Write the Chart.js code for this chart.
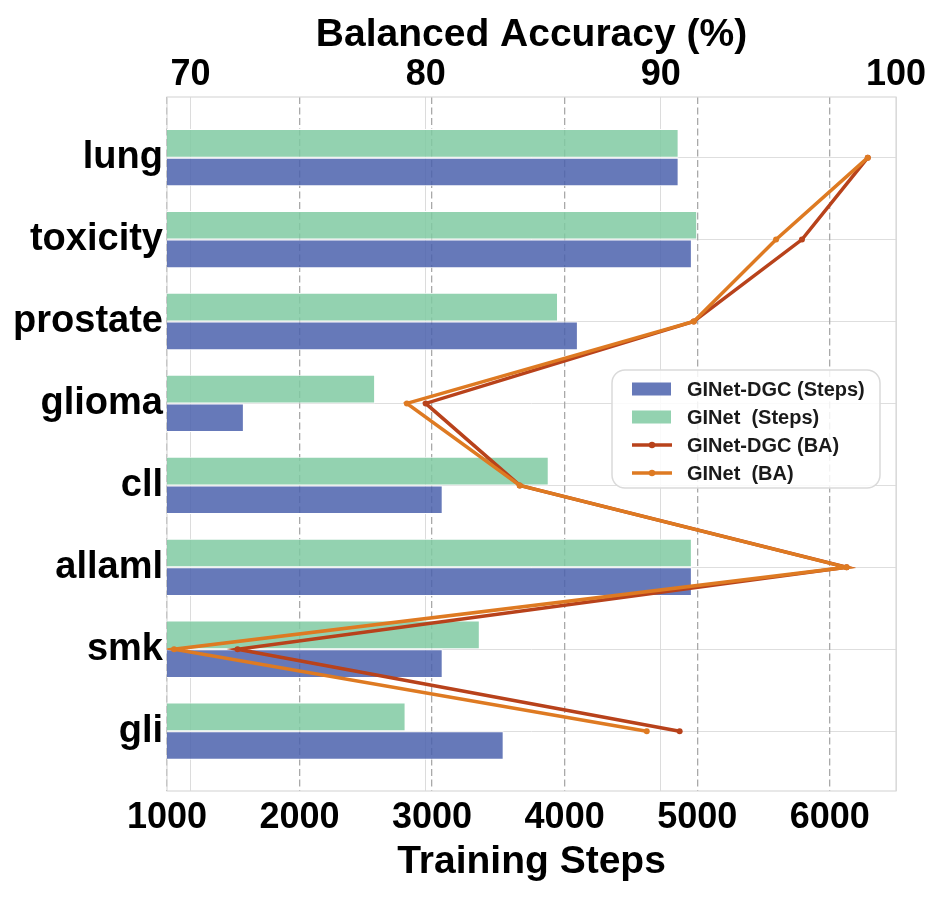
<!DOCTYPE html>
<html>
<head>
<meta charset="utf-8">
<script src="https://cdn.jsdelivr.net/npm/chart.js@4.4.1/dist/chart.umd.min.js"></script>
<style>
  html, body { margin: 0; padding: 0; background: #fff; }
  #wrap { width: 943px; height: 897px; }
</style>
</head>
<body>
<div id="wrap"><canvas id="chart" width="943" height="897"></canvas></div>
<script>
// datasets, top to bottom
const categories = ['lung', 'toxicity', 'prostate', 'glioma', 'cll', 'allaml', 'smk', 'gli'];
const dgcSteps   = [4860, 4960, 4100, 1580, 3080, 4960, 3080, 3540];
const ginetSteps = [4860, 5000, 3950, 2570, 3880, 4960, 3360, 2800];
const dgcBA   = [98.8, 96.0, 91.4, 80.0, 84.0, 97.9, 72.0, 90.8];
const ginetBA = [98.8, 94.9, 91.4, 79.2, 84.0, 97.9, 69.3, 89.4];
const stepTicks = [1000, 2000, 3000, 4000, 5000, 6000];
const baTicks = [70, 80, 90, 100];

const FONT = "'Liberation Sans', Arial, sans-serif";
const BLUE = 'rgba(75, 97, 173, 0.85)';
const GREEN = 'rgba(128, 202, 162, 0.85)';
const RED = '#b8421b';
const ORANGE = '#de7a22';

const pts = arr => arr.map((v, i) => ({ x: v, y: i }));

const legendItems = [
  { label: 'GINet-DGC (Steps)', color: BLUE, kind: 'bar' },
  { label: 'GINet  (Steps)', color: GREEN, kind: 'bar' },
  { label: 'GINet-DGC (BA)', color: RED, kind: 'line' },
  { label: 'GINet  (BA)', color: ORANGE, kind: 'line' },
];

// frame around plot + custom legend inside the plot
const framePlugin = {
  id: 'frame',
  beforeDatasetsDraw(chart) {
    const { ctx, chartArea: a } = chart;
    ctx.save();
    ctx.strokeStyle = '#d9d9d9';
    ctx.lineWidth = 1.2;
    ctx.strokeRect(a.left, a.top, a.right - a.left, a.bottom - a.top);
    ctx.restore();
  },
  afterDraw(chart) {
    const { ctx, chartArea: a } = chart;
    const bx = a.right - 284, by = a.top + 273, bw = 268, bh = 118;
    ctx.save();
    ctx.beginPath();
    ctx.roundRect(bx, by, bw, bh, 13);
    ctx.fillStyle = 'rgba(255,255,255,0.85)';
    ctx.fill();
    ctx.strokeStyle = '#dadada';
    ctx.lineWidth = 1.5;
    ctx.stroke();
    ctx.font = 'bold 20px ' + FONT;
    ctx.textBaseline = 'middle';
    legendItems.forEach((it, i) => {
      const y = by + 19 + i * 28;
      const sx = bx + 20;
      if (it.kind === 'bar') {
        ctx.fillStyle = it.color;
        ctx.fillRect(sx, y - 6.5, 39, 13);
      } else {
        ctx.strokeStyle = it.color;
        ctx.lineWidth = 3.5;
        ctx.beginPath();
        ctx.moveTo(sx, y);
        ctx.lineTo(sx + 40, y);
        ctx.stroke();
        ctx.fillStyle = it.color;
        ctx.beginPath();
        ctx.arc(sx + 20, y, 3.2, 0, Math.PI * 2);
        ctx.fill();
      }
      ctx.fillStyle = '#1a1a1a';
      ctx.fillText(it.label, bx + 75, y + 1);
    });
    ctx.restore();
  }
};

new Chart(document.getElementById('chart'), {
  type: 'bar',
  data: {
    datasets: [
      { type: 'bar', label: 'GINet-DGC (Steps)', data: pts(dgcSteps), xAxisID: 'x', yAxisID: 'y',
        backgroundColor: BLUE, borderColor: '#ffffff', borderWidth: 1, order: 3 },
      { type: 'bar', label: 'GINet  (Steps)', data: pts(ginetSteps), xAxisID: 'x', yAxisID: 'y',
        backgroundColor: GREEN, borderColor: '#ffffff', borderWidth: 1, order: 2 },
      { type: 'line', label: 'GINet-DGC (BA)', data: pts(dgcBA), xAxisID: 'x2', yAxisID: 'y',
        borderColor: RED, backgroundColor: RED, borderWidth: 3.5, pointRadius: 3,
        pointBorderWidth: 0, tension: 0, order: 1 },
      { type: 'line', label: 'GINet  (BA)', data: pts(ginetBA), xAxisID: 'x2', yAxisID: 'y',
        borderColor: ORANGE, backgroundColor: ORANGE, borderWidth: 3.5, pointRadius: 3,
        pointBorderWidth: 0, tension: 0, order: 0 },
    ]
  },
  options: {
    indexAxis: 'y',
    responsive: false,
    animation: false,
    categoryPercentage: 0.7,
    barPercentage: 1.0,
    layout: { padding: { left: 0, right: 47, top: 0, bottom: 0 } },
    plugins: {
      legend: { display: false },
      tooltip: { enabled: false },
    },
    scales: {
      y: {
        type: 'linear',
        position: 'left',
        reverse: true,
        offset: false,
        min: -0.74,
        max: 7.73,
        afterFit(s) { s.width = 167; },
        afterBuildTicks(s) { s.ticks = categories.map((c, i) => ({ value: i })); },
        ticks: {
          padding: 4,
          autoSkip: false,
          color: '#000',
          font: { family: FONT, size: 38, weight: 'bold' },
          callback: v => categories[v] ?? '',
        },
        grid: { color: '#dedede', lineWidth: 1, drawTicks: false, offset: false },
        border: { display: false },
      },
      x: {
        type: 'linear',
        position: 'bottom',
        min: 1000,
        max: 6500,
        afterFit(s) { s.height = 106; },
        afterBuildTicks(s) { s.ticks = stepTicks.map(v => ({ value: v })); },
        ticks: {
          padding: 5,
          maxRotation: 0,
          color: '#000',
          font: { family: FONT, size: 36, weight: 'bold' },
          callback: v => String(v),
        },
        grid: { color: '#a9a9a9', lineWidth: 1.3, drawTicks: false },
        border: { display: false, dash: [7, 3.5] },
        title: {
          display: true,
          text: 'Training Steps',
          color: '#000',
          font: { family: FONT, size: 39, weight: 'bold' },
          padding: { top: 0, bottom: 11 },
        },
      },
      x2: {
        type: 'linear',
        position: 'top',
        min: 69,
        max: 100,
        afterFit(s) { s.height = 97; },
        afterBuildTicks(s) { s.ticks = baTicks.map(v => ({ value: v })); },
        ticks: {
          padding: 0,
          maxRotation: 0,
          color: '#000',
          font: { family: FONT, size: 36, weight: 'bold' },
          callback: v => String(v),
        },
        grid: { color: '#dcdcdc', lineWidth: 1, drawTicks: false },
        border: { display: false },
        title: {
          display: true,
          text: 'Balanced Accuracy (%)',
          color: '#000',
          font: { family: FONT, size: 39, weight: 'bold' },
          padding: { top: 12, bottom: 0 },
        },
      },
    },
  },
  plugins: [framePlugin],
});
</script>
</body>
</html>
